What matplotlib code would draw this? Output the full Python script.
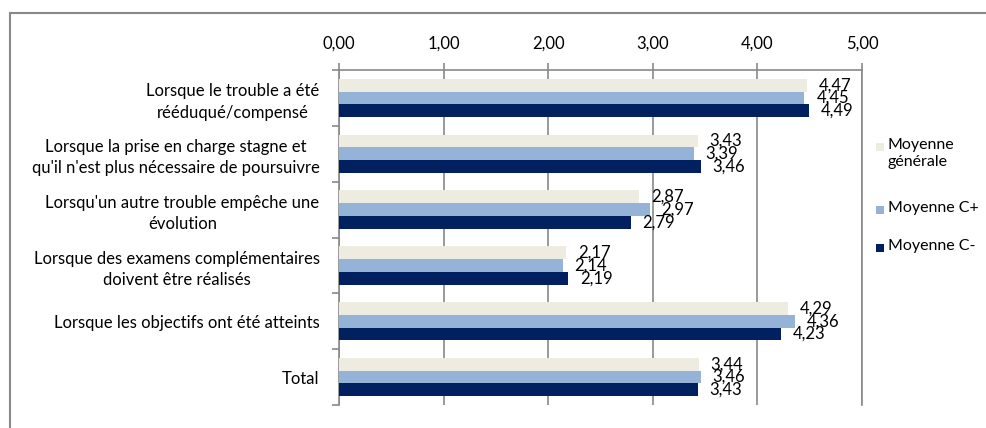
import matplotlib
matplotlib.use("Agg")
import matplotlib.pyplot as plt
from matplotlib.patches import Rectangle
from matplotlib.ticker import FuncFormatter, FixedLocator

plt.rcParams['font.family'] = ['Lato', 'DejaVu Sans']

# question categories (top to bottom)
categories = [
    "Lorsque le trouble a été\nrééduqué/compensé",
    "Lorsque la prise en charge stagne et\nqu'il n'est plus nécessaire de poursuivre",
    "Lorsqu'un autre trouble empêche une\névolution",
    "Lorsque des examens complémentaires\ndoivent être réalisés",
    "Lorsque les objectifs ont été atteints",
    "Total",
]
moyenne_generale = [4.47, 3.43, 2.87, 2.17, 4.29, 3.44]
moyenne_cplus = [4.45, 3.39, 2.97, 2.14, 4.36, 3.46]
moyenne_cmoins = [4.49, 3.46, 2.79, 2.19, 4.23, 3.43]
series_names = ["Moyenne\ngénérale", "Moyenne C+", "Moyenne C-"]
colors = ["#EEECE1", "#95B3D7", "#002060"]
grey = "#898989"
fs = 12

fig = plt.figure(figsize=(9.87, 4.28), dpi=100)
ax = fig.add_axes([339/987, 1-405/428, (862-339)/987, (405-70)/428])

h = 0.228
ypos = list(range(len(categories)))
for k, vals in enumerate([moyenne_generale, moyenne_cplus, moyenne_cmoins]):
    offs = (k - 1) * h
    ax.barh([y + offs for y in ypos], vals, height=h, color=colors[k], zorder=3)
    for y, v in zip(ypos, vals):
        ax.annotate(f"{v:.2f}".replace('.', ','), (v, y + offs), xytext=(8.5, 0),
                    textcoords='offset points', ha='left', va='center',
                    fontsize=fs, color='black', zorder=4)

ax.set_xlim(0, 5)
ax.set_ylim(len(categories) - 0.5, -0.5)
ax.xaxis.tick_top()
ax.xaxis.set_major_locator(FixedLocator([0, 1, 2, 3, 4, 5]))
ax.xaxis.set_major_formatter(FuncFormatter(lambda x, p: f"{x:.2f}".replace('.', ',')))
ax.tick_params(axis='x', which='major', top=True, bottom=False, length=5, width=1.2,
               color=grey, labelsize=fs, pad=8)
ax.grid(axis='x', color=grey, linewidth=1.2, zorder=0)

ax.set_yticks(ypos)
ax.set_yticklabels(categories, fontsize=fs, multialignment='center', linespacing=1.4)
ax.tick_params(axis='y', which='major', length=0, pad=14)
ax.yaxis.set_minor_locator(FixedLocator([i - 0.5 for i in range(len(categories) + 1)]))
ax.tick_params(axis='y', which='minor', length=5, width=1.2, color=grey)

for s in ['top', 'left', 'right']:
    ax.spines[s].set_color(grey)
    ax.spines[s].set_linewidth(1.2)
ax.spines['bottom'].set_visible(False)

# legend, drawn by hand on the right
W, H = 987, 428
leg_y = [147, 210, 248]
for c, name, y in zip(colors, series_names, leg_y):
    fig.patches.append(Rectangle((876/W, 1-(y+4)/H), 8/W, 8/H, transform=fig.transFigure,
                                 facecolor=c, edgecolor='none'))
    fig.text(888/W, 1-(y-9)/H, name, fontsize=11.5, ha='left', va='top', linespacing=1.3)

# outer chart frame
fig.patches.append(Rectangle((10/W, -0.1), 1.1, 1-13/H+0.1, transform=fig.transFigure,
                             facecolor='none', edgecolor=grey, linewidth=1.5))

fig.savefig("out.png", dpi=100)
